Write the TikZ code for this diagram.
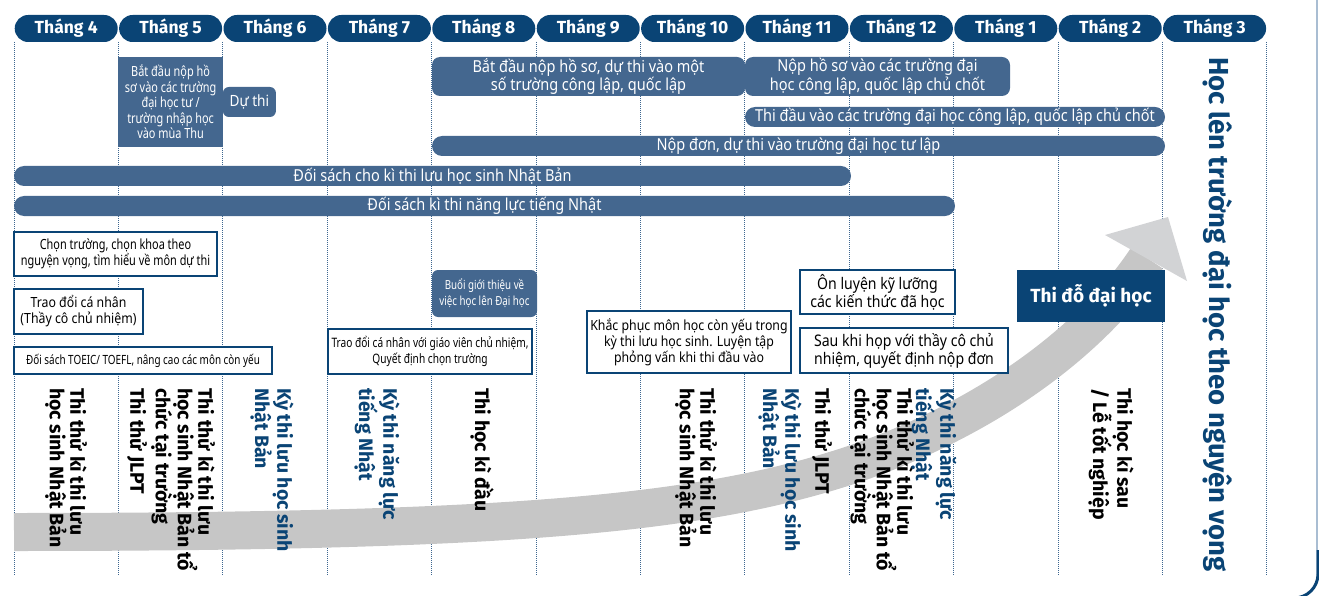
\documentclass[tikz,border=0pt]{standalone}
\usepackage{fontspec}
\setmainfont{Noto Sans}[FakeStretch=0.88]
\newfontfamily\narrowfont{Noto Sans}[FakeStretch=0.78]
\newfontfamily\heavyfont{Fira Sans}
\definecolor{navy}{HTML}{0A4475}
\definecolor{barblue}{HTML}{44678F}
\definecolor{bandgray}{HTML}{C6C6C6}
\definecolor{headgray}{HTML}{D2D3D5}
\definecolor{edgeblue}{HTML}{A9BDD2}
\definecolor{dotblue}{HTML}{3D6690}

\begin{document}
\begin{tikzpicture}[x=1pt,y=-1pt]
  \tikzset{month/.style={fill=navy, text=white, rounded corners=13.5pt, minimum width=103pt, minimum height=27pt, inner sep=0pt, font=\heavyfont\bfseries\fontsize{17.5}{20}\selectfont},
    colline/.style={dotblue, line width=0.8pt, dash pattern=on 1pt off 1pt},
    bar/.style={fill=barblue, text=white, rounded corners=10pt, inner sep=0pt, align=center, font=\fontsize{16.5}{16}\selectfont},
    panel/.style={fill=barblue, text=white, inner sep=0pt, align=center, font=\narrowfont\fontsize{14}{15.5}\selectfont},
    note/.style={draw=navy, line width=1.2pt, fill=white, inner sep=0pt, align=center, font=\fontsize{14}{16}\selectfont},
    narrownote/.style={note, font=\narrowfont\fontsize{14}{16}\selectfont},
    exam/.style={rotate=-90, anchor=west, align=left, inner sep=0pt, font=\heavyfont\bfseries\fontsize{19.5}{20.5}\selectfont},
    goal/.style={rotate=-90, anchor=west, inner sep=0pt, text=navy, font=\heavyfont\bfseries\fontsize{27.5}{28}\selectfont}}
  \useasboundingbox (0,0) rectangle (1319,596);

  \foreach \m [count=\i from 0] in {4,5,6,7,8,9,10,11,12,1,2,3}
    \node[month] (m\m) at ({66.2+104.4*\i},28.5) {Tháng \m};
  \foreach \i in {0,...,12}
    \draw[colline] ({14+104.4*\i},42) -- ({14+104.4*\i},575);

  \draw[bandgray, line width=38pt] (14,532) .. controls (500,532) and (700,515) .. (851,465)
    .. controls (1000,415) and (1100,330) .. (1147,258);
  \fill[headgray] (1105,235) -- (1168,217) -- (1187,281) -- cycle;

  \draw[edgeblue, line width=1.2pt] (1317,0) -- (1317,574);
  \draw[navy, line width=3pt, rounded corners=24pt] (1318,550) -- (1318,598) -- (1270,598);

  \node[panel, minimum width=104.4pt, minimum height=90pt] (autumn) at (170.6,102) {Bắt đầu nộp hồ\\sơ vào các trường\\đại học tư /\\trường nhập học\\vào mùa Thu};
  \node[bar, rounded corners=6pt, font=\fontsize{15.5}{16}\selectfont, minimum width=53pt, minimum height=30pt] (sit) at (249.4,102) {Dự thi};
  \node[bar, rounded corners=8pt, minimum width=313pt, minimum height=39pt] (pubstart) at (588.5,76.5) {Bắt đầu nộp hồ sơ, dự thi vào một\\số trường công lập, quốc lập};
  \node[bar, rounded corners=8pt, minimum width=265pt, minimum height=39pt] (pubapply) at (877.5,76.5) {Nộp hồ sơ vào các trường đại\\học công lập, quốc lập chủ chốt};
  \node[bar, minimum width=420pt, minimum height=20pt] (pubexam) at (955,117) {Thi đầu vào các trường đại học công lập, quốc lập chủ chốt};
  \node[bar, minimum width=733pt, minimum height=20pt] (private) at (798.5,146) {Nộp đơn, dự thi vào trường đại học tư lập};
  \node[bar, minimum width=837pt, minimum height=20pt] (ejuprep) at (432.5,176) {Đối sách cho kì thi lưu học sinh Nhật Bản};
  \node[bar, minimum width=941pt, minimum height=20pt] (jlptprep) at (484.5,206) {Đối sách kì thi năng lực tiếng Nhật};

  \node[narrownote, minimum width=203pt, minimum height=44pt] (choose) at (115.5,254) {Chọn trường, chọn khoa theo\\nguyện vọng, tìm hiểu về môn dự thi};
  \node[note, minimum width=129pt, minimum height=45pt] (talk) at (78.5,311.5) {Trao đổi cá nhân\\(Thầy cô chủ nhiệm)};
  \node[narrownote, font=\narrowfont\fontsize{12.7}{16}\selectfont, minimum width=258pt, minimum height=27pt] (toeic) at (143,360.5) {Đối sách TOEIC/ TOEFL, nâng cao các môn còn yếu};
  \node[narrownote, font=\narrowfont\fontsize{13}{16}\selectfont, minimum width=204pt, minimum height=45pt] (teacher) at (430,351.5) {Trao đổi cá nhân với giáo viên chủ nhiệm,\\Quyết định chọn trường};
  \node[panel, rounded corners=6pt, font=\narrowfont\fontsize{12.5}{16}\selectfont, minimum width=105pt, minimum height=47pt] (seminar) at (484.5,293.5) {Buổi giới thiệu về\\việc học lên Đại học};
  \node[note, minimum width=204pt, minimum height=62pt] (weak) at (689,342) {Khắc phục môn học còn yếu trong\\kỳ thi lưu học sinh. Luyện tập\\phỏng vấn khi thi đầu vào};
  \node[note, font=\fontsize{16}{15.5}\selectfont, minimum width=155pt, minimum height=44pt] (review) at (877.5,292) {Ôn luyện kỹ lưỡng\\các kiến thức đã học};
  \node[note, font=\fontsize{16}{16}\selectfont, minimum width=208pt, minimum height=45pt] (decide) at (904,350.5) {Sau khi họp với thầy cô chủ\\nhiệm, quyết định nộp đơn};
  \node[fill=navy, text=white, inner sep=0pt, minimum width=148pt, minimum height=52pt, font=\heavyfont\bfseries\fontsize{19}{20}\selectfont] (passed) at (1091,296) {Thi đỗ đại học};

  \node[exam] (ejutrial1) at (66,388) {Thi thử kì thi lưu\\học sinh Nhật Bản};
  \node[exam] (jlpttrial1) at (137,388) {Thi thử JLPT};
  \node[exam] (schooltrial1) at (183,388) {Thi thử kì thi lưu\\học sinh Nhật Bản tổ\\chức tại trường};
  \node[exam, text=navy] (eju1) at (272,388) {Kỳ thi lưu học sinh\\Nhật Bản};
  \node[exam, text=navy] (jlpt1) at (377,388) {Kỳ thi năng lực\\tiếng Nhật};
  \node[exam] (term1) at (482,388) {Thi học kì đầu};
  \node[exam] (ejutrial2) at (696,388) {Thi thử kì thi lưu\\học sinh Nhật Bản};
  \node[exam, text=navy] (eju2) at (780,388) {Kỳ thi lưu học sinh\\Nhật Bản};
  \node[exam] (jlpttrial2) at (822,388) {Thi thử JLPT};
  \node[exam] (schooltrial2) at (882,388) {Thi thử kì thi lưu\\học sinh Nhật Bản tổ\\chức tại trường};
  \node[exam, text=navy] (jlpt2) at (934,388) {Kỳ thi năng lực\\tiếng Nhật};
  \node[exam] (term2) at (1111,388) {Thi học kì sau\\/ Lễ tốt nghiệp};
  \node[goal] (target) at (1218,57) {Học lên trường đại học theo nguyện vọng};
\end{tikzpicture}
\end{document}
